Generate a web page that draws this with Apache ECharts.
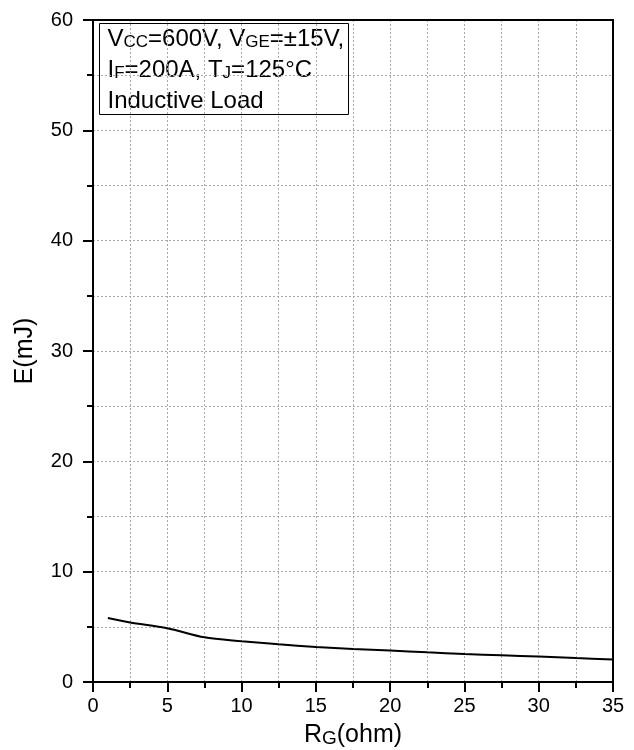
<!DOCTYPE html>
<html>
<head>
<meta charset="utf-8">
<script src="https://cdn.jsdelivr.net/npm/echarts@6/dist/echarts.min.js"></script>
<style>html,body{margin:0;padding:0;background:#fff}#c{width:634px;height:750px}</style>
</head>
<body>
<div id="c"></div>
<script>
const rgValues = [1, 2.5, 5, 7.5, 10, 12.5, 15, 17.5, 20, 22.5, 25, 27.5, 30, 32.5, 35];
const energyValues = [5.8, 5.4, 4.88, 4.05, 3.7, 3.42, 3.18, 3.0, 2.85, 2.69, 2.54, 2.42, 2.3, 2.17, 2.05];
const xTicks = [0, 5, 10, 15, 20, 25, 30, 35];
const yTicks = [0, 10, 20, 30, 40, 50, 60];

const FONT = '"Liberation Sans", Arial, sans-serif';
const chart = echarts.init(document.getElementById('c'), null, {renderer: 'canvas'});
const axisLine = {show: true, onZero: false, lineStyle: {color: '#000', width: 2}};
const grid = {left: 93, right: 21, top: 20, bottom: 68, containLabel: false, outerBoundsMode: 'none'};
const dotted = {show: true, lineStyle: {color: '#aaa', type: [2, 2], width: 1}};

const option = {
  animation: false,
  backgroundColor: '#fff',
  grid: grid,
  xAxis: [{
    type: 'value', min: xTicks[0], max: xTicks[xTicks.length - 1], interval: 5,
    name: 'R{s|G}(ohm)', nameLocation: 'middle', nameGap: 41,
    nameTextStyle: {fontFamily: FONT, fontSize: 25, color: '#000', rich: {s: {fontSize: 19, fontFamily: FONT, color: '#000', padding: [6, 0, 0, 0]}}},
    axisLine: axisLine,
    axisTick: {show: true, length: 10, lineStyle: {color: '#000', width: 2}},
    minorTick: {show: true, splitNumber: 2, length: 6, lineStyle: {color: '#000', width: 2}},
    axisLabel: {fontFamily: FONT, fontSize: 20, color: '#000', margin: 14},
    splitLine: dotted,
    minorSplitLine: dotted
  }, {
    type: 'value', position: 'top', min: xTicks[0], max: xTicks[xTicks.length - 1], interval: 5,
    axisLine: axisLine, axisTick: {show: false}, axisLabel: {show: false}, splitLine: {show: false}
  }],
  yAxis: [{
    type: 'value', min: yTicks[0], max: yTicks[yTicks.length - 1], interval: 10,
    name: 'E(mJ)', nameLocation: 'middle', nameGap: 55,
    nameTextStyle: {fontFamily: FONT, fontSize: 25, color: '#000'},
    axisLine: axisLine,
    axisTick: {show: true, length: 10, lineStyle: {color: '#000', width: 2}},
    minorTick: {show: true, splitNumber: 2, length: 6, lineStyle: {color: '#000', width: 2}},
    axisLabel: {fontFamily: FONT, fontSize: 20, color: '#000', margin: 20},
    splitLine: dotted,
    minorSplitLine: dotted
  }, {
    type: 'value', position: 'right', min: yTicks[0], max: yTicks[yTicks.length - 1], interval: 10,
    axisLine: axisLine, axisTick: {show: false}, axisLabel: {show: false}, splitLine: {show: false}
  }],
  series: [{
    type: 'line', xAxisIndex: 0, yAxisIndex: 0,
    data: rgValues.map((x, i) => [x, energyValues[i]]),
    showSymbol: false, smooth: 0.3,
    lineStyle: {color: '#000', width: 2}
  }],
  graphic: [{
    type: 'group', left: 99, top: 23, z: 100,
    children: [{
      type: 'rect', shape: {x: 0, y: 0, width: 249, height: 91},
      style: {fill: '#fff', stroke: '#000', lineWidth: 1}
    }, {
      type: 'text', x: 8, y: 0,
      style: {
        text: '{n|V}{s|CC}{n|=600V, V}{s|GE}{n|=±15V,}\n{n|I}{s|F}{n|=200A, T}{s|J}{n|=125°C}\n{n|Inductive Load}',
        fill: '#000',
        rich: {
          n: {fontFamily: FONT, fontSize: 24, lineHeight: 31, fill: '#000'},
          s: {fontFamily: FONT, fontSize: 17, fill: '#000', padding: [6, 0, 0, 0]}
        }
      }
    }]
  }]
};
chart.setOption(option);
</script>
</body>
</html>
